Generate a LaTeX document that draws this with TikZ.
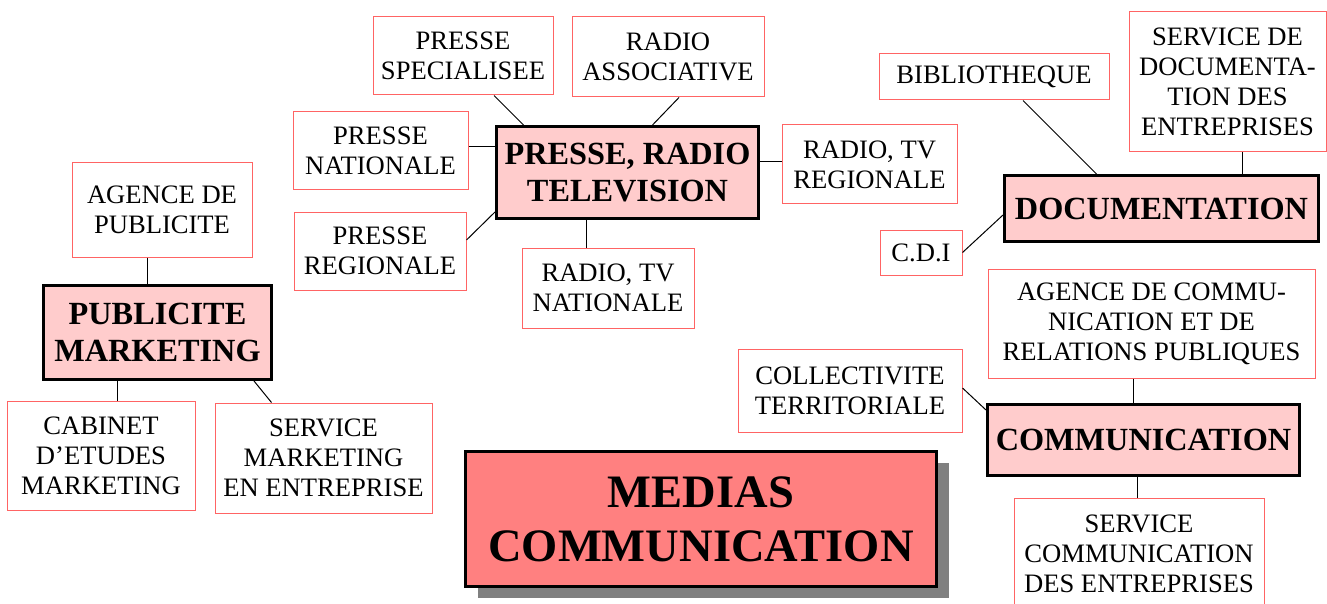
\documentclass[tikz,border=0pt]{standalone}
\usepackage{fontspec}
\setmainfont{Liberation Serif}
\usetikzlibrary{calc, positioning, shadows}

\definecolor{leafred}{RGB}{255,100,100}
\definecolor{hubpink}{RGB}{255,204,204}
\definecolor{corered}{RGB}{255,128,128}
\definecolor{shadowgray}{RGB}{128,128,128}

\begin{document}
\begin{tikzpicture}[x=1pt, y=-1pt,
  leaf/.style={draw=leafred, line width=1pt, fill=white, align=center, inner sep=0pt,
    font=\fontsize{26.6}{30}\selectfont},
  hub/.style={draw=black, line width=3pt, fill=hubpink, align=center, inner sep=0pt,
    font=\bfseries\fontsize{32.3}{36.5}\selectfont},
  core/.style={draw=black, line width=3pt, fill=corered, align=center, inner sep=0pt,
    font=\bfseries\fontsize{46.5}{54}\selectfont,
    drop shadow={shadow xshift=12pt, shadow yshift=-11pt, fill=shadowgray, opacity=1}},
  link/.style={draw=black, line width=1pt}]

  \useasboundingbox (0,0) rectangle (1327,604);

  % Presse, radio, television
  \node[hub, minimum width=262, minimum height=92] (prtv) at (627.5,172.5) {PRESSE, RADIO\\TELEVISION};
  \node[leaf, minimum width=180, minimum height=78] (pspec) at (463,56) {PRESSE\\SPECIALISEE};
  \node[leaf, minimum width=192, minimum height=80] (rasso) at (668,57) {RADIO\\ASSOCIATIVE};
  \node[leaf, minimum width=175, minimum height=78] (pnat) at (380.5,151) {PRESSE\\NATIONALE};
  \node[leaf, minimum width=172, minimum height=78] (preg) at (380,251) {PRESSE\\REGIONALE};
  \node[leaf, minimum width=172, minimum height=80] (rtvnat) at (608,288) {RADIO, TV\\NATIONALE};
  \node[leaf, minimum width=175, minimum height=79] (rtvreg) at (869.5,164.5) {RADIO, TV\\REGIONALE};

  % Documentation
  \node[hub, minimum width=314, minimum height=66] (doc) at (1161.5,208.5) {DOCUMENTATION};
  \node[leaf, minimum width=230, minimum height=46] (biblio) at (994,77) {BIBLIOTHEQUE};
  \node[leaf, minimum width=197, minimum height=140] (sdoc) at (1227.5,82) {SERVICE DE\\DOCUMENTA-\\TION DES\\ENTREPRISES};
  \node[leaf, minimum width=82, minimum height=45] (cdi) at (921,252.5) {C.D.I};

  % Communication
  \node[hub, minimum width=312, minimum height=71] (com) at (1143.5,440) {COMMUNICATION};
  \node[leaf, minimum width=327, minimum height=109] (acom) at (1151.5,323.5) {AGENCE DE COMMU-\\NICATION ET DE\\RELATIONS PUBLIQUES};
  \node[leaf, minimum width=224, minimum height=83] (coll) at (850,390.5) {COLLECTIVITE\\TERRITORIALE};
  \node[leaf, minimum width=250, minimum height=112] (scom) at (1139,554) {SERVICE\\COMMUNICATION\\DES ENTREPRISES};

  % Publicite, marketing
  \node[hub, minimum width=228, minimum height=94] (pubm) at (157.5,332.5) {PUBLICITE\\MARKETING};
  \node[leaf, minimum width=180, minimum height=94] (agpub) at (162,210) {AGENCE DE\\PUBLICITE};
  \node[leaf, minimum width=188, minimum height=109] (cab) at (101,455.5) {CABINET\\D’ETUDES\\MARKETING};
  \node[leaf, minimum width=217, minimum height=110] (smark) at (323.5,458) {SERVICE\\MARKETING\\EN ENTREPRISE};

  % Title
  \node[core, minimum width=471, minimum height=135] (medias) at (701,519) {MEDIAS\\COMMUNICATION};

  % Links
  \draw[link] ([xshift=31pt]pspec.south) -- ([xshift=-104pt]prtv.north);
  \draw[link] ([xshift=11pt]rasso.south) -- ([xshift=25pt]prtv.north);
  \draw[link] ([yshift=4pt]pnat.east) -- ([yshift=4pt]pnat.east -| prtv.west);
  \draw[link] ([yshift=11pt]preg.east) -- ([yshift=8pt]prtv.south west);
  \draw[link] ([xshift=-22pt]rtvnat.north) -- ([xshift=-22pt]rtvnat.north |- prtv.south);
  \draw[link] ([yshift=2.5pt]rtvreg.west) -- ([yshift=2.5pt]rtvreg.west -| prtv.east);

  \draw[link] ([xshift=29pt]biblio.south) -- ([xshift=-65pt]doc.north);
  \draw[link] ([xshift=14.5pt]sdoc.south) -- ([xshift=14.5pt]sdoc.south |- doc.north);
  \draw[link] (cdi.east) -- ([yshift=-6.5pt]doc.west);

  \draw[link] ([xshift=-18.5pt]acom.south) -- ([xshift=-18.5pt]acom.south |- com.north);
  \draw[link] ([yshift=2.5pt]coll.east) -- ([yshift=-7pt]com.north west);
  \draw[link] ([xshift=-6.5pt]com.south) -- ([xshift=-6.5pt]com.south |- scom.north);

  \draw[link] ([xshift=-15pt]agpub.south) -- ([xshift=-15pt]agpub.south |- pubm.north);
  \draw[link] ([xshift=16pt]cab.north) -- ([xshift=16pt]cab.north |- pubm.south);
  \draw[link] ([xshift=-19pt]pubm.south east) -- ([xshift=57pt]smark.north west);

\end{tikzpicture}
\end{document}
